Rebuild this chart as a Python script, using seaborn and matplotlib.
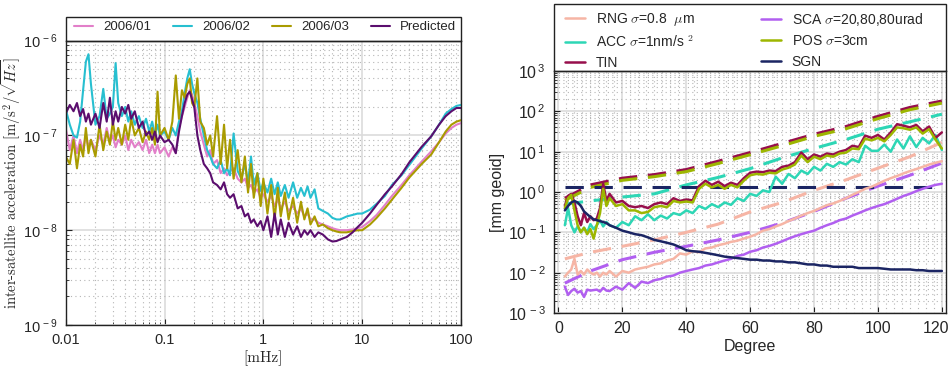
import matplotlib
matplotlib.use("Agg")
import matplotlib.pyplot as plt
import matplotlib.ticker as ticker
import matplotlib.transforms as mtransforms
from matplotlib.legend import Legend
from matplotlib.patches import Rectangle
import seaborn as sns
import pandas as pd

# ---------------- left panel: inter-satellite acceleration spectra ----------------
freq = [0.010, 0.011, 0.012, 0.013, 0.014, 0.015, 0.016, 0.017, 0.018, 0.020,
        0.022, 0.024, 0.026, 0.028, 0.030, 0.032, 0.034, 0.037, 0.040, 0.043,
        0.046, 0.050, 0.055, 0.060, 0.065, 0.070, 0.075, 0.080, 0.085, 0.090,
        0.100, 0.110, 0.120, 0.130, 0.140, 0.150, 0.160, 0.170, 0.180, 0.190,
        0.200, 0.215, 0.230, 0.250, 0.270, 0.290, 0.310, 0.340, 0.370, 0.400,
        0.430, 0.460, 0.500, 0.550, 0.600, 0.650, 0.700, 0.750, 0.800, 0.870,
        0.940, 1.00, 1.10, 1.20, 1.30, 1.40, 1.50, 1.65, 1.80, 2.00,
        2.20, 2.40, 2.60, 2.80, 3.00, 3.30, 3.60, 4.00, 4.50, 5.00,
        5.50, 6.00, 7.00, 8.00, 9.00, 10.0, 12.0, 14.0, 17.0, 20.0,
        25.0, 30.0, 40.0, 50.0, 60.0, 70.0, 80.0, 90.0, 100.0]

# values in units of 1e-8 m/s^2/sqrt(Hz)
acc_2006_01 = [12, 7, 10, 6.5, 9, 7, 10, 7.5, 9, 7,
               10, 8, 12, 8.5, 10, 7.5, 9, 8, 10, 7,
               9, 7.5, 8.5, 7, 9, 6.5, 8, 6.5, 8, 6.5,
               7.5, 6, 7.5, 6.5, 12, 16, 20, 25, 30, 27,
               22, 16, 11, 8, 6, 7, 5, 5.5, 4, 4.5,
               3.8, 4.2, 4.5, 3.5, 3.2, 3.5, 2.8, 3.0, 2.5, 2.7,
               2.2, 2.4, 2.0, 2.3, 1.8, 2.1, 1.7, 2.0, 1.6, 1.8,
               1.5, 1.7, 1.4, 1.5, 1.3, 1.3, 1.2, 1.15, 1.1, 1.05,
               1.02, 1.0, 1.0, 1.02, 1.05, 1.08, 1.25, 1.45, 1.85, 2.3,
               3.0, 3.8, 5.3, 6.8, 8.5, 10.5, 12, 13, 13.5]

acc_2006_02 = [19, 13, 10, 9.5, 14, 30, 60, 72, 35, 13,
               16, 31, 15, 17, 20, 58, 22, 16, 20, 14,
               18, 13, 16, 12, 15, 11, 14, 10, 13, 10,
               11, 9, 12, 10, 14, 18, 28, 40, 50, 35,
               28, 22, 15, 10, 7, 6, 5, 4.5, 5.5, 4.0,
               4.5, 3.8, 10.5, 4.2, 3.5, 5.0, 3.2, 6.0, 3.0, 4.0,
               2.6, 3.2, 2.5, 3.5, 2.4, 3.2, 2.3, 3.0, 2.2, 3.2,
               2.2, 2.8, 2.3, 2.9, 2.2, 2.7, 1.7, 1.6, 1.5, 1.35,
               1.3, 1.3, 1.4, 1.45, 1.5, 1.5, 1.65, 1.9, 2.3, 3.0,
               3.8, 4.9, 7.3, 9.8, 13, 17, 19, 20.5, 21]

acc_2006_03 = [6, 5, 9, 4.5, 8, 6, 12, 6.5, 9, 6,
               13, 7, 11, 8, 14, 9, 12, 8, 13, 9,
               15, 10, 12, 8.5, 11, 9, 12, 8, 29, 10,
               12, 9, 14, 43, 15, 30, 25, 35, 40, 22,
               20, 40, 14, 12, 8, 10, 6, 16, 5, 13,
               4.5, 9, 3.5, 7, 3.2, 6, 2.5, 5, 2.2, 4.0,
               1.8, 3.5, 1.5, 3.0, 1.3, 2.8, 1.4, 2.5, 1.3, 2.2,
               1.2, 2.0, 1.3, 1.7, 1.15, 1.4, 1.1, 1.15, 1.05, 1.0,
               0.97, 0.95, 0.95, 0.98, 1.0, 1.0, 1.15, 1.35, 1.7, 2.1,
               2.8, 3.6, 5.0, 6.3, 8.5, 11, 13, 14, 14.5]

acc_predicted = [17, 21, 18, 22, 16, 19, 14, 17, 13, 17,
                 12, 22, 14, 25, 13, 18, 14, 20, 17, 21,
                 15, 18, 12, 14, 10, 11, 9, 11, 8.5, 10,
                 8.5, 9, 8, 6.5, 11, 16, 22, 27, 29, 24,
                 20, 10, 7, 5, 4.5, 4.0, 3.2, 3.0, 2.7, 3.2,
                 2.4, 2.2, 2.4, 1.7, 1.8, 1.4, 1.5, 1.2, 1.3, 1.1,
                 1.25, 1.0, 1.4, 0.85, 1.5, 0.9, 1.3, 0.85, 1.2, 0.9,
                 1.1, 0.85, 1.0, 0.9, 1.0, 0.85, 0.95, 0.9, 0.8, 0.76,
                 0.77, 0.8, 0.85, 0.95, 1.08, 1.2, 1.5, 1.85, 2.4, 2.9,
                 3.9, 5.2, 7.6, 9.8, 13, 16, 18, 19.5, 19.5]

spectra_labels = ["2006/01", "2006/02", "2006/03", "Predicted"]
spectra_values = [acc_2006_01, acc_2006_02, acc_2006_03, acc_predicted]
spectra_colors = ["#e27fc9", "#27bfd0", "#a99b00", "#5b0e6e"]

# ---------------- right panel: geoid error per degree ----------------
degree = [2, 3, 4, 5, 6, 7, 8, 9, 10, 11, 12, 13, 14, 15, 16,
          18, 20, 22, 24, 26, 28, 30, 32, 34, 36, 38, 40, 42, 44, 46,
          48, 50, 52, 54, 56, 58, 60, 62, 64, 66, 68, 70, 72, 74, 76,
          78, 80, 82, 84, 86, 88, 90, 92, 94, 96, 98, 100, 102, 104, 106,
          108, 110, 112, 114, 116, 118, 120]

rng = [0.008, 0.01, 0.012, 0.022, 0.009, 0.011, 0.009, 0.012, 0.01, 0.009, 0.01, 0.008, 0.01, 0.009, 0.011,
       0.008, 0.011, 0.01, 0.012, 0.013, 0.014, 0.016, 0.017, 0.02, 0.022, 0.03, 0.028, 0.034, 0.032, 0.04,
       0.042, 0.048, 0.052, 0.058, 0.062, 0.07, 0.078, 0.09, 0.11, 0.12, 0.14, 0.16, 0.19, 0.22, 0.26,
       0.3, 0.34, 0.4, 0.47, 0.52, 0.6, 0.7, 0.85, 1.0, 1.2, 1.35, 1.6, 1.9, 2.2, 2.5,
       2.9, 3.3, 3.7, 4.2, 4.8, 5.3, 5.8]
acc = [0.15, 0.4, 0.15, 0.1, 0.14, 0.1, 0.13, 0.1, 0.16, 0.12, 0.15, 0.2, 0.14, 0.18, 0.15,
       0.13, 0.18, 0.15, 0.25, 0.2, 0.28, 0.2, 0.26, 0.22, 0.3, 0.27, 0.35, 0.3, 0.45, 0.38,
       0.5, 0.42, 0.55, 0.48, 0.7, 0.6, 0.9, 0.8, 1.1, 1.0, 2.4, 1.6, 2.8, 2.2, 3.4,
       2.8, 4.2, 3.4, 5.0, 4.2, 5.5, 4.8, 6.5, 5.5, 14, 10.5, 10.5, 15, 10, 20,
       12, 24, 13, 22, 16, 26, 11]
tin = [0.45, 0.8, 0.9, 0.55, 0.25, 0.15, 0.3, 0.18, 0.25, 0.2, 0.22, 0.4, 1.6, 0.6, 0.9,
       0.55, 0.6, 0.45, 0.42, 0.45, 0.4, 0.5, 0.55, 0.5, 0.7, 0.6, 0.65, 0.62, 1.4, 1.9,
       1.5, 1.8, 1.4, 1.7, 1.5, 2.2, 3.0, 3.2, 3.1, 3.4, 3.3, 4.2, 4.5, 5.5, 9.5,
       6.5, 8.5, 7.5, 9, 8.5, 10, 11, 14, 13, 25, 22, 26, 20, 30, 48,
       44, 40, 46, 32, 42, 22, 30]
sca = [0.0045, 0.0028, 0.0035, 0.004, 0.0032, 0.0035, 0.0025, 0.0038, 0.0036, 0.0037, 0.0038, 0.0034, 0.0042, 0.0036, 0.0035,
       0.0045, 0.0038, 0.0055, 0.0042, 0.006, 0.0055, 0.0065, 0.007, 0.008, 0.0085, 0.01, 0.011, 0.012, 0.013, 0.015,
       0.016, 0.018, 0.02, 0.022, 0.026, 0.028, 0.033, 0.036, 0.042, 0.046, 0.052, 0.06, 0.07, 0.08, 0.09,
       0.1, 0.11, 0.13, 0.15, 0.17, 0.2, 0.22, 0.26, 0.3, 0.35, 0.4, 0.45, 0.5, 0.58, 0.68,
       0.8, 0.9, 1.05, 1.2, 1.35, 1.5, 1.6]
pos = [0.4, 0.7, 0.85, 0.35, 0.15, 0.1, 0.13, 0.09, 0.12, 0.07, 0.15, 0.3, 1.2, 0.45, 0.7,
       0.45, 0.5, 0.35, 0.35, 0.3, 0.32, 0.42, 0.45, 0.42, 0.6, 0.55, 0.58, 0.55, 1.2, 1.6,
       1.3, 1.5, 1.2, 1.5, 1.3, 1.9, 2.6, 2.8, 2.7, 3.0, 2.9, 3.6, 4.0, 4.8, 8,
       5.5, 7.5, 6.5, 8, 7.5, 9, 9.5, 12, 11.5, 21, 19, 22, 18, 26, 40,
       38, 35, 40, 28, 36, 20, 12]
sgn = [0.35, 0.45, 0.55, 0.6, 0.55, 0.45, 0.33, 0.28, 0.24, 0.21, 0.2, 0.19, 0.18, 0.17, 0.15,
       0.13, 0.11, 0.1, 0.09, 0.085, 0.075, 0.065, 0.06, 0.055, 0.05, 0.043, 0.036, 0.034, 0.033, 0.031,
       0.029, 0.027, 0.025, 0.024, 0.023, 0.022, 0.021, 0.021, 0.02, 0.02, 0.019, 0.019, 0.018, 0.018, 0.017,
       0.016, 0.016, 0.015, 0.015, 0.014, 0.014, 0.014, 0.014, 0.013, 0.013, 0.013, 0.013, 0.0125, 0.012, 0.012,
       0.012, 0.012, 0.0115, 0.0115, 0.011, 0.011, 0.011]

# predicted (dashed) curves
model_degree = [2, 10, 20, 30, 40, 50, 60, 70, 80, 90, 100, 110, 120]
rng_model = [0.022, 0.032, 0.045, 0.065, 0.1, 0.16, 0.32, 0.55, 1.1, 2.0, 3.9, 7.5, 17]
acc_model = [0.5, 0.6, 0.75, 0.9, 1.5, 2.3, 3.8, 7.0, 12, 20, 36, 55, 85]
tin_model = [0.7, 1.5, 2.2, 2.7, 3.6, 5.8, 9.5, 16, 27, 42, 75, 125, 180]
sca_model = [0.0055, 0.011, 0.021, 0.032, 0.045, 0.065, 0.1, 0.17, 0.33, 0.7, 1.4, 2.6, 5.2]
pos_model = [0.62, 1.3, 1.95, 2.4, 3.2, 5.1, 8.4, 14, 24, 37, 66, 110, 160]
sgn_model = [1.3, 1.3, 1.3, 1.3, 1.3, 1.3, 1.3, 1.3, 1.3, 1.3, 1.3, 1.3, 1.3]

geoid_labels = [r"RNG $\sigma$=0.8  $\mu$m", r"ACC $\sigma$=1nm/s $^{2}$", "TIN",
                r"SCA $\sigma$=20,80,80urad", r"POS $\sigma$=3cm", "SGN"]
geoid_values = [rng, acc, tin, sca, pos, sgn]
geoid_models = [rng_model, acc_model, tin_model, sca_model, pos_model, sgn_model]
geoid_colors = ["#f6b5a5", "#2dd6b5", "#970f4c", "#b15ff0", "#9db600", "#1b2563"]

# ---------------- style ----------------
sns.set_theme(style="white")
plt.rcParams["font.family"] = ["Liberation Sans", "DejaVu Sans"]
plt.rcParams["mathtext.fontset"] = "cm"
plt.rcParams["xtick.direction"] = "in"
plt.rcParams["ytick.direction"] = "in"

W, H = 953, 368
fig = plt.figure(figsize=(W / 100, H / 100), dpi=100)


def px_axes(x0, y0, x1, y1):
    """Axes from pixel box (top-left origin)."""
    return fig.add_axes([x0 / W, 1 - y1 / H, (x1 - x0) / W, (y1 - y0) / H])


def log_labels(exps):
    return [r"$\mathregular{10^{\,%d}}$" % e for e in exps]


def style_grid(ax):
    ax.grid(True, which="major", color="#dcdcdc", linewidth=1.2, linestyle="-")
    ax.grid(True, which="minor", color="#b5b5b5", linewidth=0.8, linestyle=(0, (1, 3)))
    ax.set_axisbelow(True)
    for sp in ax.spines.values():
        sp.set_color("#222222")
        sp.set_linewidth(1.0)
    ax.tick_params(which="both", color="#222222", left=True, bottom=True, top=False, right=False)
    ax.tick_params(which="major", length=4, width=0.8)
    ax.tick_params(which="minor", length=2, width=0.6)


def legend_columns(ax, columns, xs, y_top, fontsize, spacing):
    """One legend per column, anchored at pixel positions (frame drawn separately)."""
    handles, labels = ax.get_legend_handles_labels()
    lookup = dict(zip(labels, handles))
    for col, x in zip(columns, xs):
        leg = Legend(ax, [lookup[l] for l in col], col, loc="upper left",
                     bbox_to_anchor=(x / W, 1 - y_top / H), bbox_transform=fig.transFigure,
                     frameon=False, fontsize=fontsize, borderpad=0, borderaxespad=0,
                     handlelength=1.45, handletextpad=0.75, labelspacing=spacing)
        ax.add_artist(leg)


# ---- left panel
ax1 = px_axes(65.7, 40.7, 461, 325)
for lab, vals, col in zip(spectra_labels, spectra_values, spectra_colors):
    df = pd.DataFrame({"f": freq, "a": [v * 1e-8 for v in vals]})
    sns.lineplot(data=df, x="f", y="a", ax=ax1, color=col, linewidth=1.5, label=lab)
ax1.set_xscale("log")
ax1.set_yscale("log")
ax1.set_xlim(0.01, 100)
ax1.set_ylim(1e-9, 1e-6)
ax1.set_xticks([0.01, 0.1, 1, 10, 100])
ax1.set_xticklabels(["0.01", "0.1", "1", "10", "100"])
ax1.set_yticks([1e-9, 1e-8, 1e-7, 1e-6])
ax1.set_yticklabels(log_labels([-9, -8, -7, -6]))
ax1.xaxis.set_minor_locator(ticker.LogLocator(base=10, subs=range(2, 10), numticks=20))
ax1.yaxis.set_minor_locator(ticker.LogLocator(base=10, subs=range(2, 10), numticks=20))
ax1.xaxis.set_minor_formatter(ticker.NullFormatter())
ax1.yaxis.set_minor_formatter(ticker.NullFormatter())
ax1.tick_params(axis="both", labelsize=10.5, pad=6)
style_grid(ax1)
ax1.set_xlabel("[mHz]", family=["cmr10", "DejaVu Serif"], fontsize=11, labelpad=2)
ax1.set_ylabel(r"inter-satellite acceleration $[\mathrm{m/s}^2/\sqrt{Hz}]$",
               family=["cmr10", "DejaVu Serif"], fontsize=10.5)
ax1.yaxis.set_label_coords(-0.108, 0.5)
ax1.get_legend().remove()
ax1.add_patch(Rectangle((0, 1), 1, 23.4 / 284.3, transform=ax1.transAxes, clip_on=False,
                        facecolor="white", edgecolor="#222222", linewidth=1.0))
legend_columns(ax1, [[l] for l in spectra_labels], [74, 173, 272, 371], 21, 9.5, 0.3)

# ---- right panel
ax2 = px_axes(554, 71, 946, 313)
for lab, vals, model, col in zip(geoid_labels, geoid_values, geoid_models, geoid_colors):
    sns.lineplot(x=model_degree, y=model, ax=ax2, color=col, linewidth=2.2,
                 linestyle=(0, (6, 3.5)), legend=False)
for lab, vals, model, col in zip(geoid_labels, geoid_values, geoid_models, geoid_colors):
    sns.lineplot(x=degree, y=vals, ax=ax2, color=col, linewidth=1.8, label=lab)
ax2.set_yscale("log")
ax2.set_xlim(-1.4, 121.3)
ax2.set_ylim(1e-3, 1e3)
ax2.set_xticks([0, 20, 40, 60, 80, 100, 120])
ax2.xaxis.set_minor_locator(ticker.MultipleLocator(2.5))
ax2.set_yticks([1e-3, 1e-2, 1e-1, 1, 10, 100, 1000])
ax2.set_yticklabels(log_labels([-3, -2, -1, 0, 1, 2, 3]))
ax2.yaxis.set_minor_locator(ticker.LogLocator(base=10, subs=range(2, 10), numticks=20))
ax2.yaxis.set_minor_formatter(ticker.NullFormatter())
ax2.tick_params(axis="both", labelsize=11.5, pad=6)
style_grid(ax2)
ax2.tick_params(axis="x", which="minor", length=0)
ax2.set_xlabel("Degree", fontsize=11.5, labelpad=2)
ax2.set_ylabel("[mm geoid]", fontsize=11.5, labelpad=2)
ax2.get_legend().remove()
ax2.add_patch(Rectangle((0, 1), 1, 67 / 242, transform=ax2.transAxes, clip_on=False,
                        facecolor="white", edgecolor="#222222", linewidth=1.0))
legend_columns(ax2, [geoid_labels[:3], geoid_labels[3:]], [565, 761], 11, 10, 0.45)

# nudge the last x tick label so it stays inside the picture
last = ax2.get_xticklabels()[-1]
last.set_transform(last.get_transform() + mtransforms.ScaledTranslation(-4 / 72, 0, fig.dpi_scale_trans))

fig.savefig("out.png", dpi=100, facecolor="white")
